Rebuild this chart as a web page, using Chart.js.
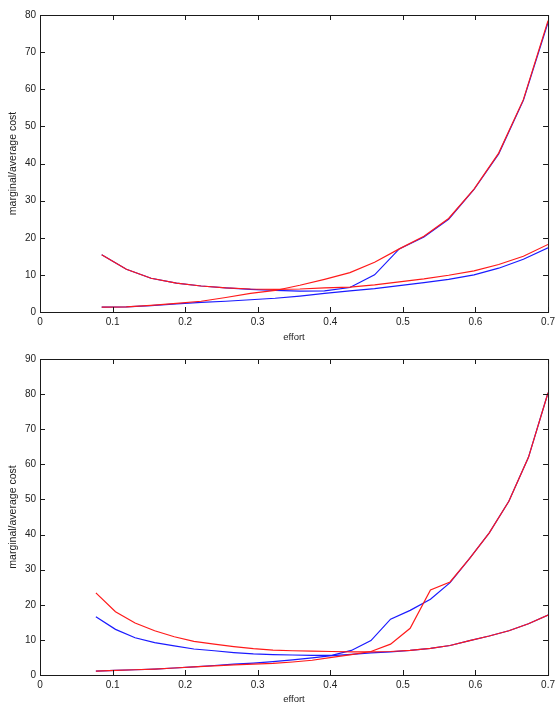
<!DOCTYPE html>
<html>
<head>
<meta charset="utf-8">
<script src="https://cdn.jsdelivr.net/npm/chart.js@4/dist/chart.umd.min.js"></script>
<style>
    body { margin: 0; background: #fff; }
    #wrap { position: relative; width: 559px; height: 703px; }
    canvas { position: absolute; left: 0; }
    #top-chart { top: 0; }
    #bottom-chart { top: 345px; }
</style>
</head>
<body>
<div id="wrap">
    <canvas id="top-chart" width="559" height="345"></canvas>
    <canvas id="bottom-chart" width="559" height="358"></canvas>
</div>
<script>
// Top panel data
var effortTop = [0.085, 0.119, 0.153, 0.188, 0.222, 0.256, 0.290, 0.324, 0.358, 0.392,
    0.427, 0.461, 0.495, 0.529, 0.563, 0.598, 0.632, 0.666, 0.700];
var redSteepTop = [1.3, 1.4, 1.8, 2.3, 2.9, 3.9, 5.0, 5.8, 7.2, 8.8,
    10.6, 13.4, 17.0, 20.4, 25.2, 33.1, 42.8, 57.2, 78.5];
var redFlatTop = [15.4, 11.5, 9.1, 7.8, 7.0, 6.5, 6.2, 6.1, 6.2, 6.5,
    6.7, 7.3, 8.1, 8.9, 9.9, 11.1, 12.8, 15.0, 18.2];
var blueSteepTop = [15.4, 11.5, 9.1, 7.8, 7.0, 6.5, 6.1, 5.8, 5.6, 5.7,
    6.6, 10.0, 17.0, 20.2, 25.0, 33.0, 42.6, 57.0, 78.0];
var blueFlatTop = [1.3, 1.4, 1.7, 2.2, 2.6, 2.9, 3.3, 3.7, 4.3, 5.0,
    5.7, 6.3, 7.1, 7.9, 8.8, 10.0, 11.8, 14.2, 17.3];

// Bottom panel data
var effortBottom = [0.077, 0.104, 0.131, 0.158, 0.185, 0.212, 0.240, 0.267, 0.294, 0.321, 0.348, 0.375,
    0.402, 0.429, 0.456, 0.483, 0.510, 0.538, 0.565, 0.592, 0.619, 0.646, 0.673, 0.700];
var redSteepBottom = [1.1, 1.3, 1.5, 1.7, 2.0, 2.3, 2.6, 2.9, 3.1, 3.3, 3.7, 4.2,
    5.0, 5.8, 6.7, 8.8, 13.3, 24.2, 26.5, 33.2, 40.5, 49.5, 62.0, 80.4];
var redFlatBottom = [23.4, 18.0, 14.8, 12.6, 10.9, 9.6, 8.8, 8.1, 7.5, 7.1, 6.9, 6.8,
    6.7, 6.6, 6.6, 6.7, 7.0, 7.6, 8.4, 9.8, 11.1, 12.6, 14.6, 17.1];
var blueSteepBottom = [16.6, 13.0, 10.6, 9.2, 8.3, 7.4, 6.9, 6.4, 6.0, 5.8, 5.7, 5.6,
    5.6, 7.0, 9.8, 15.9, 18.4, 21.6, 26.3, 33.2, 40.5, 49.5, 62.0, 80.4];
var blueFlatBottom = [1.1, 1.3, 1.5, 1.7, 2.0, 2.3, 2.7, 3.1, 3.4, 3.8, 4.3, 4.9,
    5.5, 5.9, 6.3, 6.6, 7.0, 7.6, 8.4, 9.8, 11.1, 12.6, 14.6, 17.1];

// Axis ranges
var xMax = 0.7;
var yMaxTop = 80;
var yMaxBottom = 90;

var FONT = "'Liberation Sans', Arial, sans-serif";

// Box frame with inward tick marks on all four sides
var innerTicks = {
    id: "innerTicks",
    afterDraw: function (chart) {
        var ctx = chart.ctx;
        var a = chart.chartArea;
        var xs = chart.scales.x;
        var ys = chart.scales.y;
        var len = 5;
        ctx.save();
        ctx.strokeStyle = "#1a1a1a";
        ctx.lineWidth = 1;
        ctx.beginPath();
        xs.ticks.forEach(function (t) {
            var px = Math.round(xs.getPixelForValue(t.value)) + 0.5;
            ctx.moveTo(px, a.bottom);
            ctx.lineTo(px, a.bottom - len);
            ctx.moveTo(px, a.top);
            ctx.lineTo(px, a.top + len);
        });
        ys.ticks.forEach(function (t) {
            var py = Math.round(ys.getPixelForValue(t.value)) + 0.5;
            ctx.moveTo(a.left, py);
            ctx.lineTo(a.left + len, py);
            ctx.moveTo(a.right, py);
            ctx.lineTo(a.right - len, py);
        });
        ctx.stroke();
        ctx.strokeRect(a.left + 0.5, a.top + 0.5, a.right - a.left, a.bottom - a.top);
        ctx.restore();
    },
};

function points(xs, ys) {
    return xs.map(function (x, i) {
        return { x: x, y: ys[i] };
    });
}

function line(data, color) {
    return {
        data: data,
        borderColor: color,
        borderWidth: 1.2,
        pointRadius: 0,
        tension: 0,
        fill: false,
    };
}

function makeChart(id, effort, redSteep, redFlat, blueSteep, blueFlat, yMax, padTop, xHeight, titlePad) {
    var ctx = document.getElementById(id);

    // Chart Data (red listed first so it is painted over blue)
    var chartData = {
        datasets: [
            line(points(effort, redSteep), "#ff1a1a"),
            line(points(effort, redFlat), "#ff1a1a"),
            line(points(effort, blueSteep), "#1a1aff"),
            line(points(effort, blueFlat), "#1a1aff"),
        ],
    };

    // Chart Options
    var chartOptions = {
        responsive: false,
        animation: false,
        devicePixelRatio: 1,
        layout: { padding: { left: 0, right: 9, top: padTop, bottom: 0 } },
        plugins: { legend: { display: false }, tooltip: { enabled: false } },
        scales: {
            x: {
                type: "linear",
                min: 0,
                max: xMax,
                grid: { display: false, drawTicks: false },
                border: { display: false },
                ticks: {
                    stepSize: 0.1,
                    padding: 4,
                    color: "#222",
                    font: { family: FONT, size: 10 },
                    callback: function (v) { return String(+v.toFixed(1)); },
                },
                title: {
                    display: true,
                    text: "effort",
                    color: "#222",
                    font: { family: FONT, size: 9.5, lineHeight: 0.8 },
                    padding: { top: 0, bottom: titlePad },
                },
                afterFit: function (s) { s.height = xHeight; },
            },
            y: {
                min: 0,
                max: yMax,
                grid: { display: false, drawTicks: false },
                border: { display: false },
                ticks: {
                    stepSize: 10,
                    padding: 4,
                    color: "#222",
                    font: { family: FONT, size: 10 },
                },
                title: {
                    display: true,
                    text: "marginal/average cost",
                    color: "#222",
                    font: { family: FONT, size: 10.5, lineHeight: 1 },
                    padding: { top: 8, bottom: 0 },
                },
                afterFit: function (s) { s.width = 40; },
            },
        },
    };

    var config = {
        type: "line",
        data: chartData,
        options: chartOptions,
        plugins: [innerTicks],
    };

    return new Chart(ctx, config);
}

// Create the charts
var topChart = makeChart("top-chart", effortTop, redSteepTop, redFlatTop, blueSteepTop, blueFlatTop,
    yMaxTop, 15, 33, 4);
var bottomChart = makeChart("bottom-chart", effortBottom, redSteepBottom, redFlatBottom, blueSteepBottom, blueFlatBottom,
    yMaxBottom, 14, 28, 0);
</script>
</body>
</html>
